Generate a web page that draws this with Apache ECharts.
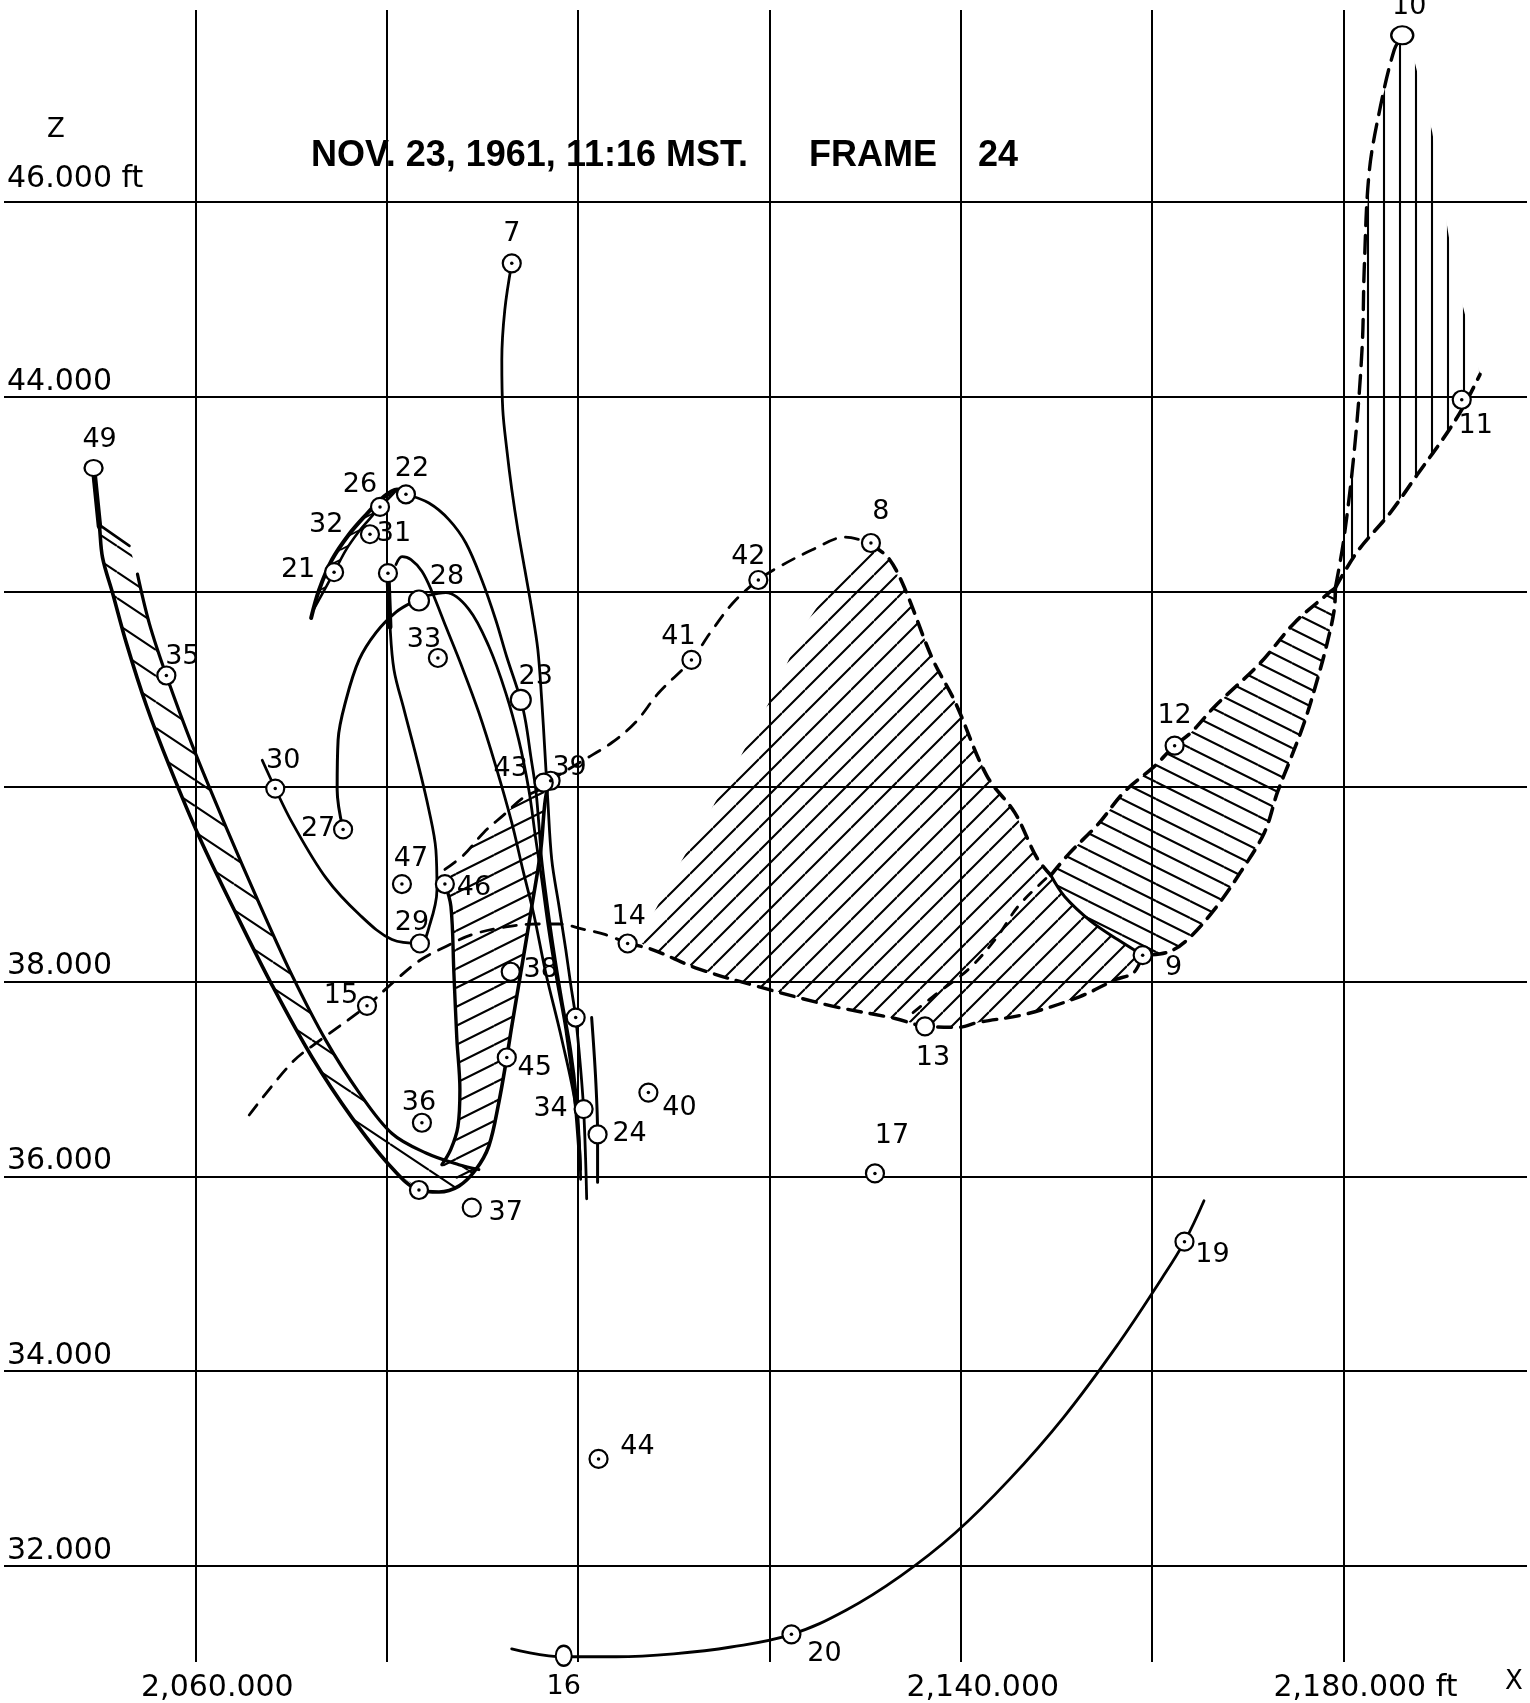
<!DOCTYPE html>
<html>
<head>
<meta charset="utf-8">
<script src="https://cdn.jsdelivr.net/npm/echarts@6/dist/echarts.min.js"></script>
<style>
html,body{margin:0;padding:0;background:#fff;}
#chart{width:1530px;height:1703px;}
</style>
</head>
<body>
<div id="chart"></div>
<script>
// ------------------------------------------------------------------
// DATA (x = horizontal distance in ft, z = altitude in ft)
// ------------------------------------------------------------------
const xTickValues = [2060000, 2140000, 2180000];
const xTickTexts  = ['2,060.000', '2,140.000', '2,180.000 ft'];
const zTickValues = [46000, 44000, 38000, 36000, 34000, 32000];
const zTickTexts  = ['46.000 ft', '44.000', '38.000', '36.000', '34.000', '32.000'];

const stationIds = ['7','8','9','10','11','12','13','14','15','16','17','19','20','21','22','23','24','26','27','28','29','30','31','32','33','34','35','36','37','38','39','40','41','42','43','44','45','46','47','49','','',''];
const stationX = [2093070,2130610,2159010,2186140,2192360,2162350,2136260,2105180,2077940,2098500,2131030,2163380,2122300,2074500,2082010,2094010,2102040,2079300,2075440,2083370,2083470,2068350,2078250,2073670,2085350,2100580,2056970,2083680,2088890,2092960,2097130,2107350,2111850,2118840,2096410,2102140,2092550,2086080,2081590,2049360,2080130,2099750,2083370];
const stationZ = [45370,42500,38270,47710,43970,40420,37540,38390,37750,31080,36030,35330,31300,42200,43000,40890,36430,42870,39560,41910,38390,39980,42590,42680,41320,36690,41140,36550,35680,38100,40060,36860,41300,42120,40040,33100,37220,39000,39000,43270,42190,37630,35860];
const stationDotted = [1,1,1,0,1,1,0,1,1,0,1,1,1,1,1,0,0,1,1,0,0,1,1,0,1,0,1,1,0,0,1,1,1,1,0,1,1,1,1,0,1,1,1];

// outer edge of the left band, continuing as the "J" up to 39
const jCurve = [[2049360,43270],[2049460,43140],[2049980,42670],[2050300,42350],[2051340,41990],[2052800,41470],[2054890,40830],[2057290,40210],[2060420,39480],[2064280,38690],[2068030,37960],[2072210,37220],[2076380,36600],[2080240,36120],[2083370,35860],[2085460,35840],[2087540,35900],[2089320,36070],[2090670,36310],[2091720,36760],[2092550,37220],[2093070,37540],[2094010,38090],[2095160,38770],[2096100,39350],[2096520,39820],[2096930,40050]];
const track49Head = [[2049360,43270],[2049980,42670]];
const innerLeft = [[2053950,42180],[2055200,41670],[2056970,41140],[2059690,40420],[2063230,39580],[2066680,38800],[2070120,38060],[2073670,37390],[2077110,36860],[2080550,36440],[2084100,36240],[2087540,36120],[2089630,36070]];
const leftBandCap = [[2050190,42670],[2053110,42470]];
const leftBandPoly = [[2050190,42670],[2050300,42350],[2051340,41990],[2052800,41470],[2054890,40830],[2057290,40210],[2060420,39480],[2064280,38690],[2068030,37960],[2072210,37220],[2076380,36600],[2080240,36120],[2083370,35860],[2085460,35840],[2087540,35900],[2089630,36070],[2087540,36120],[2084100,36240],[2080550,36440],[2077110,36860],[2073670,37390],[2070120,38060],[2066680,38800],[2063230,39580],[2059690,40420],[2056970,41140],[2055200,41670],[2053950,42180],[2053110,42470]];

const midLeft = [[2086080,39000],[2086710,38770],[2087020,38090],[2087330,37410],[2087650,36890],[2087440,36510],[2086710,36280],[2085770,36120]];
const midBandPoly = [[2086080,39000],[2088070,39300],[2090150,39530],[2092240,39710],[2094330,39890],[2096410,39990],[2096520,39820],[2096100,39350],[2095160,38770],[2094010,38090],[2093070,37540],[2092550,37220],[2091720,36760],[2090670,36310],[2089320,36070],[2087540,35950],[2085770,36120],[2086710,36280],[2087440,36510],[2087650,36890],[2087330,37410],[2087020,38090],[2086710,38770]];

const dash46to8 = [[2086080,39150],[2088070,39300],[2090150,39530],[2092240,39710],[2094330,39890],[2096410,39990],[2097130,40060],[2100380,40260],[2103510,40450],[2106010,40660],[2108410,40960],[2111850,41300],[2113830,41580],[2116230,41890],[2118840,42120],[2120720,42240],[2124480,42430],[2127920,42560],[2130610,42500]];
const dash15to14 = [[2065630,36630],[2070120,37170],[2072940,37390],[2077940,37750],[2080550,37980],[2083370,38210],[2086190,38360],[2088900,38480],[2092450,38560],[2095580,38590],[2097980,38590],[2100380,38540],[2102880,38480],[2105180,38390]];

const centerPoly = [[2106320,38410],[2110600,39200],[2115920,40110],[2120200,40910],[2123540,41630],[2127400,42200],[2130630,42480],[2132410,42350],[2134070,42050],[2137000,41320],[2139400,40870],[2142730,40110],[2145660,39730],[2147950,39270],[2149410,39090],[2150870,38870],[2153580,38620],[2156400,38430],[2159010,38270],[2158070,38090],[2156190,38020],[2152330,37840],[2146590,37660],[2141800,37580],[2139810,37530],[2136270,37540],[2133140,37620],[2126460,37750],[2118740,37950],[2112580,38130],[2107680,38330]];
const centerRightEdge = [[2130630,42480],[2132410,42350],[2134070,42050],[2137000,41320],[2139400,40870],[2142730,40110],[2145660,39730],[2147950,39270],[2149410,39090]];
const centerBottomEdge = [[2105180,38390],[2107680,38330],[2112580,38130],[2118740,37950],[2126460,37750],[2133140,37620],[2136270,37540],[2139810,37530],[2141800,37580],[2146590,37660],[2152330,37840],[2156190,38020],[2158070,38090],[2159010,38270]];
const dividerCurve = [[2149410,39090],[2150870,38870],[2153580,38620],[2156400,38430],[2159010,38270]];
const dash13up = [[2135010,37680],[2137410,37870],[2140860,38130],[2143670,38440],[2146070,38780],[2149620,39120]];

const rightLeftEdge = [[2149410,39090],[2151390,39320],[2154310,39610],[2157130,39950],[2160260,40210],[2162350,40420],[2164020,40550],[2166520,40820],[2171320,41270],[2174870,41680],[2178620,42000],[2179150,42040]];
const rightRightEdge = [[2179150,42040],[2179040,41820],[2178310,41480],[2177270,41100],[2175910,40660],[2174450,40280],[2173090,39940],[2171740,39530],[2169230,39120],[2166520,38740],[2163700,38430],[2161620,38300],[2159010,38270]];
const rightPoly = [[2149410,39090],[2151390,39320],[2154310,39610],[2157130,39950],[2160260,40210],[2162350,40420],[2164020,40550],[2166520,40820],[2171320,41270],[2174870,41680],[2178620,42000],[2179150,42040],[2179040,41820],[2178310,41480],[2177270,41100],[2175910,40660],[2174450,40280],[2173090,39940],[2171740,39530],[2169230,39120],[2166520,38740],[2163700,38430],[2161620,38300],[2159010,38270],[2156400,38430],[2153580,38620],[2150870,38870]];

const topLeftEdge = [[2179150,42040],[2180080,42570],[2181230,43550],[2181960,44530],[2182170,45320],[2182690,46310],[2183840,46970],[2185300,47560],[2186140,47710]];
const topLowerEdge = [[2179150,42040],[2181440,42410],[2184880,42810],[2187700,43200],[2190830,43630],[2192600,43910],[2194270,44230]];
const topPoly = [[2179150,42040],[2180080,42570],[2181230,43550],[2181960,44530],[2182170,45320],[2182690,46310],[2183840,46970],[2185300,47560],[2186140,47710],[2186870,47660],[2189270,46720],[2191660,45240],[2193650,44480],[2194270,44230],[2192600,43910],[2190830,43630],[2187700,43200],[2184880,42810],[2181440,42410]];

const smallBandOuter = [[2072100,41730],[2072940,42020],[2074290,42330],[2076070,42590],[2077840,42790],[2079510,42960],[2081080,43050],[2082010,43000]];
const smallBandInner = [[2072210,41790],[2074500,42200],[2075750,42430],[2077110,42620],[2078150,42740],[2079300,42870],[2080240,42960],[2081080,43050]];
const smallBandPoly = [[2072100,41730],[2072940,42020],[2074290,42330],[2076070,42590],[2077840,42790],[2079510,42960],[2081080,43050],[2080240,42960],[2079300,42870],[2078150,42740],[2077110,42620],[2075750,42430],[2074500,42200],[2072210,41790]];

const track22 = [[2082010,43000],[2084410,42910],[2086500,42740],[2088270,42500],[2089940,42120],[2091400,41710],[2092550,41330],[2094010,40890],[2094530,40660],[2095060,40310],[2095580,39970],[2095890,39630],[2096200,39250],[2096720,38840],[2097450,38330],[2098290,37820],[2099230,37300],[2099850,36790],[2100170,36280],[2100270,35970]];
const track7 = [[2093070,45370],[2092340,44890],[2092030,44380],[2092130,43870],[2092550,43460],[2093070,43050],[2093700,42640],[2094430,42230],[2095160,41820],[2095790,41410],[2096200,40890],[2096520,40380],[2096830,39870],[2097250,39250],[2097980,38790],[2098710,38330],[2099230,37970],[2099750,37630],[2100270,37100],[2100580,36690],[2100790,36170],[2100900,35770]];
const track24 = [[2101420,37630],[2101840,37000],[2102040,36430],[2102040,35940]];
const track28 = [[2084210,41960],[2086190,41990],[2088590,41820],[2090670,41440],[2092450,40960],[2093800,40480],[2094850,39970],[2095580,39460],[2096200,39050],[2096930,38530],[2097770,38020],[2098710,37510],[2099540,36890],[2100060,36280]];
const trackLoop = [[2080970,42280],[2081600,42360],[2082540,42330],[2083680,42210],[2084730,42000],[2086190,41640],[2087860,41230],[2089630,40760],[2091400,40210],[2093070,39630],[2094220,39150],[2095370,38690],[2096620,38090],[2098290,37410],[2099750,36720],[2100270,36070]];
const track27 = [[2075440,39560],[2074820,39970],[2074920,40480],[2075750,40890],[2077110,41300],[2078880,41580],[2080970,41790],[2082640,41890]];
const track30 = [[2066990,40270],[2068350,39980],[2070120,39630],[2073670,39060],[2077110,38690],[2080550,38430],[2083470,38390],[2084520,38590],[2085250,38940],[2085140,39350],[2084410,39760],[2083160,40280],[2081810,40790],[2080760,41200],[2080340,41660],[2080130,42180]];
const stem31 = [[2080130,42190],[2080340,41640]];
const track20 = [[2093060,31150],[2098510,31070],[2104000,31070],[2110000,31100],[2116000,31170],[2122300,31300],[2128050,31550],[2133730,31900],[2139410,32340],[2145090,32890],[2150770,33530],[2156450,34280],[2160990,34950],[2163380,35330],[2165420,35750]];

// ------------------------------------------------------------------
// STYLE
// ------------------------------------------------------------------
const INK = '#000';
const LABEL_OFFSET = {
  '7':[0,-29],'8':[10,-31],'9':[31,13],'10':[7,-28],'11':[14,26],'12':[0,-30],'13':[8,32],
  '14':[1,-26],'15':[-26,-10],'16':[0,31],'17':[17,-37],'19':[28,13],'20':[33,20],
  '21':[-36,-2],'22':[6,-25],'23':[15,-23],'24':[32,0],'26':[-20,-22],'27':[-25,0],
  '28':[28,-24],'29':[-8,-20],'30':[8,-28],'31':[24,0],'32':[0,0],'33':[-14,-18],
  '34':[-33,0],'35':[16,-19],'36':[-3,-20],'37':[34,5],'38':[30,-2],'39':[19,-13],
  '40':[31,15],'41':[-13,-23],'42':[-10,-23],'43':[-33,-14],'44':[39,-12],'45':[28,11],
  '46':[29,4],'47':[9,-25],'49':[6,-28]
};
const MARKER_SIZE = {'10':[22,18],'16':[16,20],'28':20,'23':20,'32':0,'49':[18,16]};

function hatch(w, h, kind, lw) {
  const c = document.createElement('canvas');
  c.width = w; c.height = h;
  const g = c.getContext('2d');
  g.strokeStyle = '#000'; g.lineWidth = lw;
  g.beginPath();
  if (kind === 'down') {          // "\"
    for (let k = -1; k <= 1; k++) { g.moveTo(0, k*h); g.lineTo(w, k*h + h); }
  } else if (kind === 'up') {     // "/"
    for (let k = 0; k <= 2; k++) { g.moveTo(0, k*h); g.lineTo(w, k*h - h); }
  } else {                        // "|"
    g.moveTo(w/2, 0); g.lineTo(w/2, h);
  }
  g.stroke();
  return {image: c, repeat: 'repeat'};
}
const patLeft   = hatch(39, 26, 'down', 2.1);
const patMid    = hatch(38, 19, 'up', 2.1);
const patCenter = hatch(23, 23, 'up', 2.1);
const patRight  = hatch(34, 17, 'down', 2.1);
const patTop    = hatch(16, 16, 'vert', 2.1);
const patSmall  = hatch(20, 10, 'up', 1.8);

function area(name, poly, pattern) {
  return {
    type: 'custom', name, coordinateSystem: 'cartesian2d', silent: true, z: 2,
    clip: true, data: [poly[0]],
    renderItem: function (params, api) {
      const pts = poly.map(p => api.coord(p));
      return {type: 'polygon', shape: {points: pts}, style: {fill: pattern, stroke: null}};
    }
  };
}
function curve(name, data, width, dash, smooth) {
  return {
    type: 'line', name, data, symbol: 'none', silent: true, z: 3,
    smooth: smooth === undefined ? 0.35 : smooth,
    lineStyle: {color: INK, width, type: dash || 'solid', cap: 'round', join: 'round', opacity: 1}
  };
}

const stationData = stationIds.map((id, i) => ({
  name: id,
  value: [stationX[i], stationZ[i]],
  symbolSize: MARKER_SIZE[id] !== undefined ? MARKER_SIZE[id] : 18,
  label: {show: id !== '', offset: LABEL_OFFSET[id] || [0, 0]}
}));
const dotData = stationIds.map((id, i) => [stationX[i], stationZ[i]]).filter((p, i) => stationDotted[i]);

const LABEL_FONT = '"DejaVu Sans", "Noto Sans", sans-serif';
const TITLE_FONT = '"Liberation Sans", Arial, sans-serif';
const titleStyle = {fontFamily: TITLE_FONT, fontSize: 36, fontWeight: 'bold', color: INK};

const option = {
  animation: false,
  backgroundColor: '#fff',
  title: [
    {text: 'NOV. 23, 1961,', left: 306, top: 133, textStyle: titleStyle},
    {text: '11:16 MST.', left: 561, top: 133, textStyle: titleStyle},
    {text: 'FRAME', left: 804, top: 133, textStyle: titleStyle},
    {text: '24', left: 973, top: 133, textStyle: titleStyle},
    {text: 'Z', left: 42, top: 112, textStyle: {fontFamily: LABEL_FONT, fontSize: 26, fontWeight: 'normal', color: INK}},
    {text: 'X', left: 1500, top: 1664, textStyle: {fontFamily: LABEL_FONT, fontSize: 26, fontWeight: 'normal', color: INK}}
  ],
  grid: {left: 4, right: 0, top: 10, bottom: 40, containLabel: false},
  xAxis: {
    type: 'value', min: 2040000, max: 2199180, interval: 20000,
    axisLine: {show: false}, axisTick: {show: false},
    splitLine: {show: true, showMinLine: false, showMaxLine: false, lineStyle: {color: INK, width: 2}},
    axisLabel: {
      show: true, margin: 11, fontSize: 30, fontFamily: LABEL_FONT, color: INK, padding: [0, 0, 0, 44],
      formatter: v => { const k = xTickValues.indexOf(v); return k >= 0 ? xTickTexts[k] : ''; }
    }
  },
  yAxis: {
    type: 'value', min: 31016, max: 47970, minInterval: 2000, maxInterval: 2000,
    axisLine: {show: false}, axisTick: {show: false},
    splitLine: {show: true, showMinLine: false, showMaxLine: false, lineStyle: {color: INK, width: 2}},
    axisLabel: {
      show: true, inside: true, align: 'left', verticalAlign: 'bottom', margin: 3,
      padding: [0, 0, 0, 0], fontSize: 30, fontFamily: LABEL_FONT, color: INK,
      rich: {hi: {fontSize: 30, fontFamily: LABEL_FONT, color: INK, padding: [0, 0, 8, 0]}},
      formatter: v => {
        const k = zTickValues.indexOf(v);
        if (k < 0) return '';
        return k === 0 ? '{hi|' + zTickTexts[k] + '}' : zTickTexts[k];
      }
    }
  },
  series: [
    area('leftBand', leftBandPoly, patLeft),
    area('midBand', midBandPoly, patMid),
    area('centerArea', centerPoly, patCenter),
    area('rightArea', rightPoly, patRight),
    area('topArea', topPoly, patTop),
    area('smallBand', smallBandPoly, patSmall),

    curve('jCurve', jCurve, 3.6),
    curve('head49', track49Head, 5.5, null, 0),
    curve('innerLeft', innerLeft, 3.2),
    curve('leftCap', leftBandCap, 2.6, null, 0),
    curve('midLeft', midLeft, 3.4),
    curve('dash46to8', dash46to8, 2.8, [13, 10]),
    curve('dash15to14', dash15to14, 2.8, [13, 10]),
    curve('centerRightEdge', centerRightEdge, 3.6, [14, 9]),
    curve('centerBottomEdge', centerBottomEdge, 3.4, [14, 9]),
    curve('dividerCurve', dividerCurve, 3),
    curve('dash13up', dash13up, 2.8, [10, 10]),
    curve('rightLeftEdge', rightLeftEdge, 3.6, [14, 9]),
    curve('rightRightEdge', rightRightEdge, 3.6, [14, 9]),
    curve('topLeftEdge', topLeftEdge, 3.4, [18, 10]),
    curve('topLowerEdge', topLowerEdge, 3.6, [14, 9]),
    curve('smallBandOuter', smallBandOuter, 4),
    curve('smallBandInner', smallBandInner, 2.6),
    curve('track22', track22, 2.8),
    curve('track7', track7, 2.8),
    curve('track24', track24, 3),
    curve('track28', track28, 2.8),
    curve('trackLoop', trackLoop, 2.8),
    curve('track27', track27, 3),
    curve('track30', track30, 2.8),
    curve('stem31', stem31, 5, null, 0),
    curve('track20', track20, 2.8, null, 0.4),

    {
      type: 'scatter', name: 'stations', z: 5, silent: true, data: stationData,
      symbol: 'circle',
      itemStyle: {color: '#fff', borderColor: INK, borderWidth: 2.2, opacity: 1},
      label: {
        show: true, position: 'inside', formatter: p => p.name,
        fontSize: 27, fontFamily: LABEL_FONT, color: INK, opacity: 1,
        textBorderWidth: 0, textBorderColor: 'transparent', textShadowBlur: 0
      }
    },
    {
      type: 'scatter', name: 'centres', z: 6, silent: true, data: dotData,
      symbol: 'circle', symbolSize: 3.5, itemStyle: {color: INK, opacity: 1}
    }
  ]
};

const chart = echarts.init(document.getElementById('chart'), null, {renderer: 'canvas'});
chart.setOption(option);
</script>
</body>
</html>
